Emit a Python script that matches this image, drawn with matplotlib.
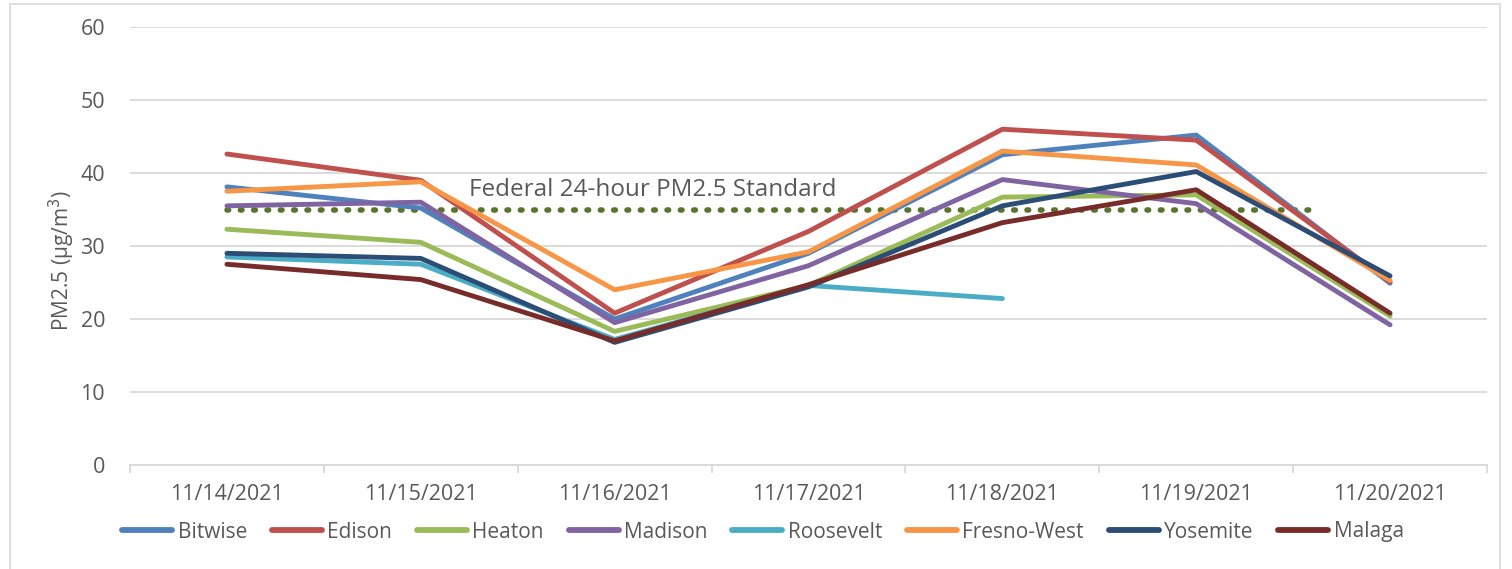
import numpy as np
import matplotlib
matplotlib.use("Agg")
import matplotlib.pyplot as plt
from matplotlib.patches import Rectangle

plt.rcParams['font.family'] = ['Open Sans', 'DejaVu Sans']

dates = ['11/14/2021', '11/15/2021', '11/16/2021', '11/17/2021',
         '11/18/2021', '11/19/2021', '11/20/2021']

bitwise = [38.1, 35.2, 20.0, 29.0, 42.5, 45.2, 24.9]
edison = [42.6, 39.0, 20.8, 32.0, 46.0, 44.5, 25.1]
heaton = [32.3, 30.5, 18.3, 24.6, 36.7, 37.0, 20.4]
madison = [35.5, 36.0, 19.5, 27.3, 39.1, 35.8, 19.2]
roosevelt = [28.5, 27.5, 17.2, 24.6, 22.8, np.nan, np.nan]
fresno_west = [37.5, 38.8, 24.0, 29.2, 43.0, 41.1, 25.3]
yosemite = [29.0, 28.3, 16.8, 24.4, 35.5, 40.2, 25.9]
malaga = [27.5, 25.4, 17.0, 24.7, 33.2, 37.7, 20.8]

series = [
    ('Bitwise', bitwise, '#4f81bd'),
    ('Edison', edison, '#c0504d'),
    ('Heaton', heaton, '#9bbb59'),
    ('Madison', madison, '#8064a2'),
    ('Roosevelt', roosevelt, '#4bacc6'),
    ('Fresno-West', fresno_west, '#f79646'),
    ('Yosemite', yosemite, '#2c4d75'),
    ('Malaga', malaga, '#772c2a'),
]

standard = 35
standard_span = (0, 5.64)

fig = plt.figure(figsize=(15.12, 5.69), dpi=100)
fig.patches.append(Rectangle((10/1512, -0.02), 1490/1512, 1.02 - 4/569,
                             transform=fig.transFigure, fill=False,
                             edgecolor='#d9d9d9', lw=1.2))

ax = fig.add_axes([130/1512, 104/569, 1357/1512, 438/569])
x = np.arange(len(dates))

ax.plot(standard_span, [standard, standard], color='#5a7430', lw=4,
        linestyle=(0, (0.3, 2.1)), dash_capstyle='round', zorder=1)
ax.text(1.25, 36.0, 'Federal 24-hour PM2.5 Standard', fontsize=17.5,
        color='#595959', va='bottom', ha='left')

for name, vals, col in series:
    ax.plot(x, vals, color=col, lw=3.5, label=name, solid_capstyle='round',
            solid_joinstyle='round', zorder=2)

ax.set_xlim(-0.5, 6.5)
ax.set_ylim(0, 60)
ax.set_yticks(range(0, 61, 10))
ax.grid(axis='y', color='#d9d9d9', lw=1.3)
ax.set_axisbelow(True)
for s in ['top', 'right', 'left']:
    ax.spines[s].set_visible(False)
ax.spines['bottom'].set_color('#d9d9d9')
ax.spines['bottom'].set_linewidth(1.3)

ax.set_xticks(np.arange(-0.5, 7, 1))
ax.set_xticklabels([])
ax.set_xticks(x, minor=True)
ax.set_xticklabels(dates, minor=True)
ax.tick_params(axis='x', which='major', length=6, color='#d9d9d9', width=1.3)
ax.tick_params(axis='x', which='minor', length=0, pad=14, labelsize=15.5,
               labelcolor='#595959')
ax.tick_params(axis='y', length=0, pad=18, labelsize=15.5, labelcolor='#595959')

fig.text(62/1512, 1 - 261/569, 'PM2.5 (µg/m$^3$)', rotation=90, fontsize=15,
         color='#595959', ha='center', va='center')

leg = fig.legend(loc='center', bbox_to_anchor=(763/1512, 1 - 532/569), ncol=8,
                 frameon=False, fontsize=15, handlelength=2.4,
                 handletextpad=0.25, columnspacing=1.2, labelcolor='#595959')
for h in leg.get_lines():
    h.set_linewidth(4.2)

fig.savefig('out.png', dpi=100)
